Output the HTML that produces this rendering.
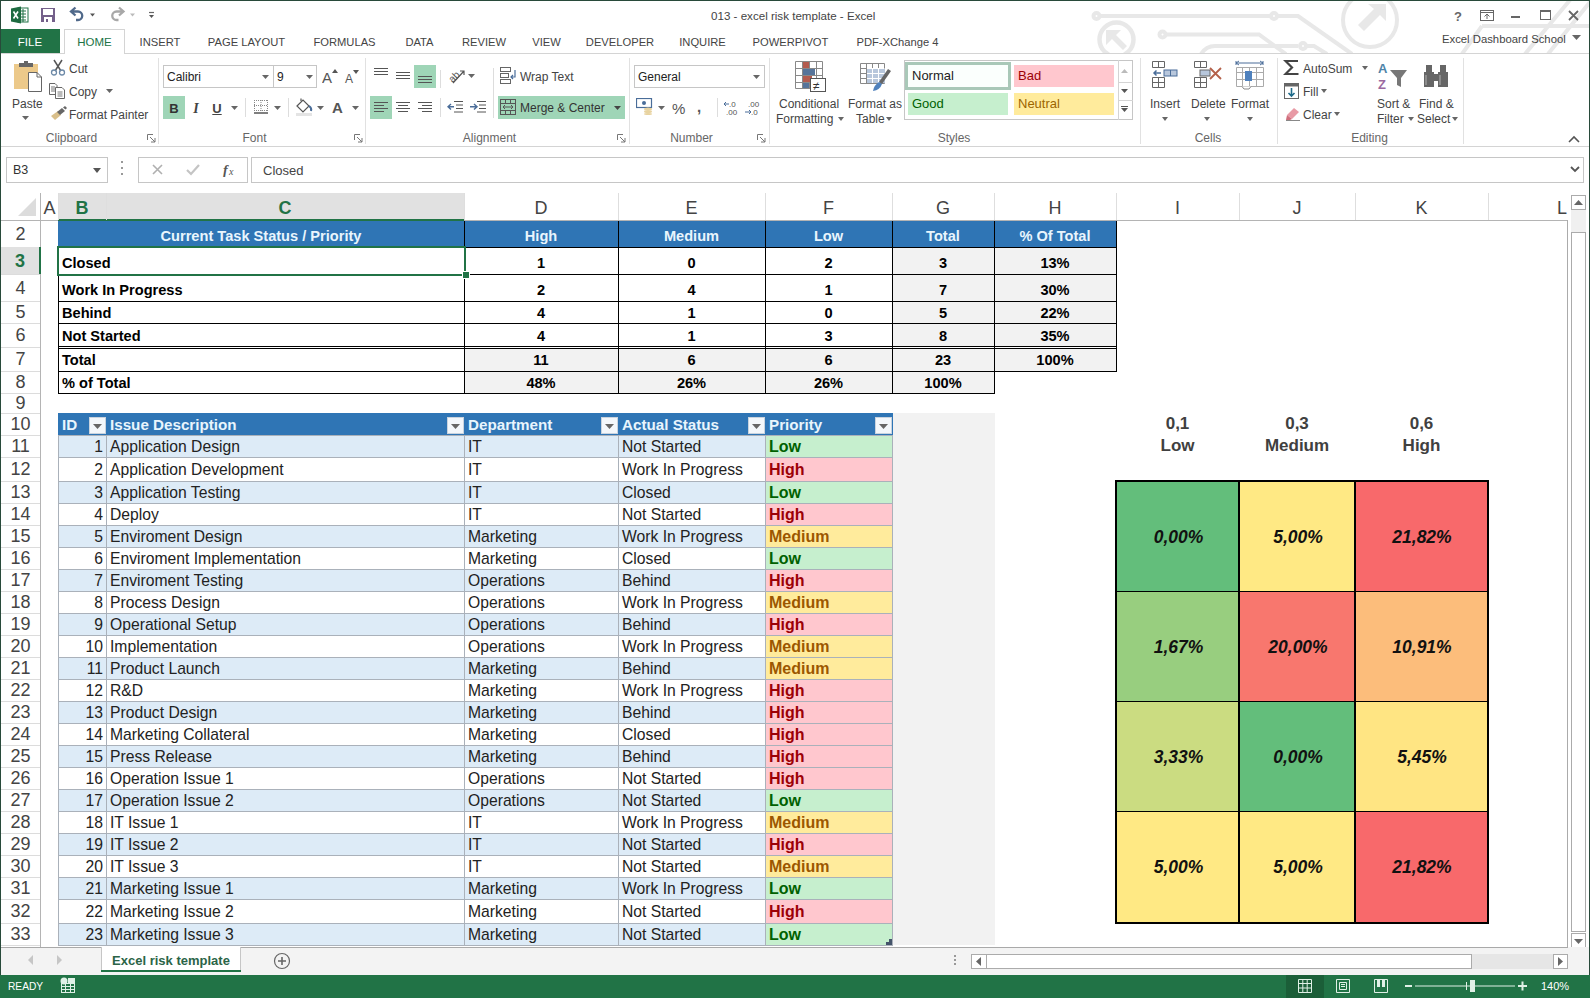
<!DOCTYPE html>
<html><head><meta charset="utf-8"><style>
html,body{margin:0;padding:0;}
body{width:1590px;height:998px;position:relative;overflow:hidden;background:#fff;font-family:"Liberation Sans",sans-serif;}
body>div,body>svg{position:absolute;}
.t{white-space:nowrap;}
</style></head><body>
<svg style="left:0;top:0" width="1590" height="54">
<g stroke="#e8e8e8" stroke-width="4" fill="none">
<circle cx="1096.5" cy="16" r="3"/><path d="M1100 16 H1270"/><circle cx="1274" cy="16" r="3"/><path d="M1277 16 H1298 L1352 54"/>
<circle cx="1116.5" cy="39.5" r="17" stroke-width="4.5"/>
<circle cx="1162.5" cy="34.5" r="3"/><path d="M1166 34.5 H1259 L1286 54"/>
<path d="M1201 54 Q1206 46 1215 46 H1298"/><circle cx="1303" cy="46" r="3"/><path d="M1306 46 H1314 L1327 54"/>
<circle cx="1370" cy="20" r="27"/>
<path d="M1482 26 H1590 M1482 26 L1462 54 M1570 0 L1525 54 M1590 2 L1548 54"/>
</g>
<g fill="#e8e8e8">
<path d="M1106 30 H1121 L1116 35 L1127 46 L1123 50 L1112 39 L1106 45 Z"/>
<path d="M1386 4 V21 L1380 15 L1364 31 L1358 25 L1374 9 L1368 4 Z"/>
</g>
</svg>
<svg style="left:10px;top:6px" width="20" height="18" viewBox="0 0 20 18">
<rect x="8" y="2" width="10" height="14" fill="#fff" stroke="#217346" stroke-width="1"/>
<path d="M10 5H16M10 8H16M10 11H16M10 14H16M13 3V16" stroke="#217346" stroke-width="1"/>
<path d="M1 2.5 L11 0.5 V17.5 L1 15.5 Z" fill="#1d6b40"/>
<path d="M3.5 5.5 L8 12.5 M8 5.5 L3.5 12.5" stroke="#fff" stroke-width="1.6"/>
</svg>
<svg style="left:41px;top:8px" width="14" height="14" viewBox="0 0 14 14">
<rect x="0" y="0" width="14" height="14" fill="#74608a"/>
<rect x="2" y="1" width="10" height="6" fill="#fff"/>
<rect x="3" y="9" width="8" height="5" fill="#fff"/><rect x="5" y="11" width="2" height="3" fill="#74608a"/>
</svg>
<svg style="left:68px;top:6px" width="90" height="18" viewBox="0 0 90 18">
<path d="M7.5 1.5 L3 5.5 L7.5 9.5 M4 5.5 H10 A4.2 4.2 0 0 1 10 14 H8" stroke="#50698a" stroke-width="2.3" fill="none"/>
<path d="M22 7.5 H27 L24.5 10.5 Z" fill="#555"/>
<path d="M51 1.5 L55.5 5.5 L51 9.5 M54.5 5.5 H48.5 A4.2 4.2 0 0 0 48.5 14 H50.5" stroke="#a8a8a8" stroke-width="2.3" fill="none"/>
<path d="M62 7.5 H67 L64.5 10.5 Z" fill="#bbb"/>
<path d="M81 6.5 H86" stroke="#666" stroke-width="1.2"/><path d="M81 9 H86 L83.5 12 Z" fill="#555"/>
</svg>
<div class="t" style="left:711px;top:7px;font-size:11.6px;color:#444;height:18px;line-height:18px;">013 - excel risk template - Excel</div>
<svg style="left:1450px;top:8px" width="135" height="16" viewBox="0 0 135 16">
<text x="4" y="13" font-family="Liberation Sans" font-weight="bold" font-size="13" fill="#666">?</text>
<rect x="30.5" y="2.5" width="13" height="10" fill="none" stroke="#666"/><path d="M30.5 4.5H43.5" stroke="#666"/>
<path d="M37 11V6 M34.5 8.5 L37 6 L39.5 8.5" stroke="#666" fill="none"/>
<rect x="61" y="8" width="9" height="2" fill="#666"/>
<rect x="90.5" y="2.5" width="10" height="9" fill="none" stroke="#666"/><rect x="90" y="2" width="11" height="2" fill="#666"/>
<path d="M119 3 L128 12 M128 3 L119 12" stroke="#666" stroke-width="1.8"/>
</svg>
<div style="left:0px;top:29px;width:60px;height:25px;background:#217346;"></div>
<div class="t" style="left:0px;top:30px;font-size:11.5px;color:#fff;width:60px;height:25px;line-height:25px;text-align:center;">FILE</div>
<div style="left:64px;top:29px;width:61px;height:25px;background:#fff;border:1px solid #d4d4d4;border-bottom:none;box-sizing:border-box;"></div>
<div class="t" style="left:64px;top:30px;font-size:11.5px;color:#217346;width:61px;height:24px;line-height:24px;text-align:center;">HOME</div>
<div class="t" style="left:121px;top:30px;font-size:11.2px;color:#444;width:78px;height:24px;line-height:24px;text-align:center;">INSERT</div>
<div class="t" style="left:188px;top:30px;font-size:11.2px;color:#444;width:117px;height:24px;line-height:24px;text-align:center;">PAGE LAYOUT</div>
<div class="t" style="left:294px;top:30px;font-size:11.2px;color:#444;width:101px;height:24px;line-height:24px;text-align:center;">FORMULAS</div>
<div class="t" style="left:384px;top:30px;font-size:11.2px;color:#444;width:71px;height:24px;line-height:24px;text-align:center;">DATA</div>
<div class="t" style="left:444px;top:30px;font-size:11.2px;color:#444;width:80px;height:24px;line-height:24px;text-align:center;">REVIEW</div>
<div class="t" style="left:513px;top:30px;font-size:11.2px;color:#444;width:67px;height:24px;line-height:24px;text-align:center;">VIEW</div>
<div class="t" style="left:569px;top:30px;font-size:11.2px;color:#444;width:102px;height:24px;line-height:24px;text-align:center;">DEVELOPER</div>
<div class="t" style="left:660px;top:30px;font-size:11.2px;color:#444;width:85px;height:24px;line-height:24px;text-align:center;">INQUIRE</div>
<div class="t" style="left:734px;top:30px;font-size:11.2px;color:#444;width:113px;height:24px;line-height:24px;text-align:center;">POWERPIVOT</div>
<div class="t" style="left:836px;top:30px;font-size:11.2px;color:#444;width:123px;height:24px;line-height:24px;text-align:center;">PDF-XChange 4</div>
<div style="left:1px;top:53px;width:63px;height:1px;background:#d4d4d4;"></div>
<div style="left:125px;top:53px;width:1464px;height:1px;background:#d4d4d4;"></div>
<div class="t" style="left:1442px;top:30px;font-size:11.3px;color:#444;height:18px;line-height:18px;">Excel Dashboard School</div>
<svg style="left:1572px;top:35px" width="9" height="5"><path d="M0 0H9L4.5 5Z" fill="#666"/></svg>
<div style="left:0px;top:146px;width:1590px;height:1px;background:#d4d4d4;"></div>
<div style="left:158px;top:58px;width:1px;height:86px;background:#e1e1e1;"></div>
<div style="left:365px;top:58px;width:1px;height:86px;background:#e1e1e1;"></div>
<div style="left:629px;top:58px;width:1px;height:86px;background:#e1e1e1;"></div>
<div style="left:769px;top:58px;width:1px;height:86px;background:#e1e1e1;"></div>
<div style="left:1140px;top:58px;width:1px;height:86px;background:#e1e1e1;"></div>
<div style="left:1277px;top:58px;width:1px;height:86px;background:#e1e1e1;"></div>
<div style="left:1463px;top:58px;width:1px;height:86px;background:#e1e1e1;"></div>
<div class="t" style="left:26px;top:130px;font-size:12px;color:#666;width:91px;height:16px;line-height:16px;text-align:center;">Clipboard</div>
<div class="t" style="left:223px;top:130px;font-size:12px;color:#666;width:63px;height:16px;line-height:16px;text-align:center;">Font</div>
<div class="t" style="left:443px;top:130px;font-size:12px;color:#666;width:93px;height:16px;line-height:16px;text-align:center;">Alignment</div>
<div class="t" style="left:651px;top:130px;font-size:12px;color:#666;width:81px;height:16px;line-height:16px;text-align:center;">Number</div>
<div class="t" style="left:920px;top:130px;font-size:12px;color:#666;width:68px;height:16px;line-height:16px;text-align:center;">Styles</div>
<div class="t" style="left:1176px;top:130px;font-size:12px;color:#666;width:64px;height:16px;line-height:16px;text-align:center;">Cells</div>
<div class="t" style="left:1331px;top:130px;font-size:12px;color:#666;width:77px;height:16px;line-height:16px;text-align:center;">Editing</div>
<svg style="left:147px;top:134px" width="9" height="9"><path d="M0.5 6V0.5H6" stroke="#777" fill="none"/><path d="M3 3L8 8M8 4V8H4" stroke="#777" fill="none"/></svg>
<svg style="left:354px;top:134px" width="9" height="9"><path d="M0.5 6V0.5H6" stroke="#777" fill="none"/><path d="M3 3L8 8M8 4V8H4" stroke="#777" fill="none"/></svg>
<svg style="left:617px;top:134px" width="9" height="9"><path d="M0.5 6V0.5H6" stroke="#777" fill="none"/><path d="M3 3L8 8M8 4V8H4" stroke="#777" fill="none"/></svg>
<svg style="left:757px;top:134px" width="9" height="9"><path d="M0.5 6V0.5H6" stroke="#777" fill="none"/><path d="M3 3L8 8M8 4V8H4" stroke="#777" fill="none"/></svg>
<svg style="left:1568px;top:135px" width="12" height="8"><path d="M1 7L6 2L11 7" stroke="#555" stroke-width="1.6" fill="none"/></svg>
<svg style="left:12px;top:60px" width="34" height="33" viewBox="0 0 34 33">
<rect x="2" y="4" width="24" height="25" fill="#ecc98a"/>
<rect x="7" y="3" width="14" height="4" fill="#666"/><rect x="12" y="1" width="4" height="3" fill="#666"/>
<path d="M16.5 12.5 H25 L29.5 17 V31.5 H16.5 Z" fill="#fff" stroke="#666"/>
<path d="M25 12.5V17H29.5" fill="none" stroke="#666"/>
</svg>
<div class="t" style="left:12px;top:97px;font-size:12px;color:#444;height:15px;line-height:15px;">Paste</div>
<svg style="left:22px;top:116px" width="7" height="4"><path d="M0 0H7L3.5 4Z" fill="#666"/></svg>
<svg style="left:50px;top:59px" width="17" height="17" viewBox="0 0 17 17">
<path d="M4 1 L11 12 M12 1 L5 12" stroke="#555" stroke-width="1.5"/>
<circle cx="4" cy="13.5" r="2.5" fill="none" stroke="#6d8aa8" stroke-width="1.3"/><circle cx="12" cy="13.5" r="2.5" fill="none" stroke="#6d8aa8" stroke-width="1.3"/>
</svg>
<div class="t" style="left:69px;top:61px;font-size:12px;color:#444;height:16px;line-height:16px;">Cut</div>
<svg style="left:49px;top:83px" width="17" height="16" viewBox="0 0 17 16">
<path d="M0.5 0.5H6L8 2.5V11.5H0.5Z" fill="#fff" stroke="#666"/>
<path d="M6.5 4.5H13L15.5 7V15.5H6.5Z" fill="#fff" stroke="#666"/>
<path d="M2 4H6M2 6H6M2 8H6M8.5 9H13.5M8.5 11H13.5M8.5 13H13.5" stroke="#777"/>
</svg>
<div class="t" style="left:69px;top:84px;font-size:12px;color:#444;height:16px;line-height:16px;">Copy</div>
<svg style="left:106px;top:89px" width="7" height="4"><path d="M0 0H7L3.5 4Z" fill="#666"/></svg>
<svg style="left:50px;top:106px" width="17" height="15" viewBox="0 0 17 15">
<path d="M1 10 L8 5 L11 9 L5 14 Z" fill="#d9bf8a"/>
<path d="M7 6 L12 2 L15 5 L10 9 Z" fill="#666"/><path d="M13 1.5 L15 0 L17 2 L15.5 3.5Z" fill="#666"/>
</svg>
<div class="t" style="left:69px;top:107px;font-size:12px;color:#444;height:16px;line-height:16px;">Format Painter</div>
<div style="left:163px;top:65px;width:111px;height:23px;border:1px solid #c6c6c6;box-sizing:border-box;background:#fff;"></div>
<div style="left:273px;top:65px;width:44px;height:23px;border:1px solid #c6c6c6;box-sizing:border-box;background:#fff;"></div>
<div class="t" style="left:167px;top:67px;font-size:12px;color:#222;height:21px;line-height:21px;">Calibri</div>
<div class="t" style="left:277px;top:67px;font-size:12px;color:#222;height:21px;line-height:21px;">9</div>
<svg style="left:262px;top:75px" width="7" height="4"><path d="M0 0H7L3.5 4Z" fill="#666"/></svg>
<svg style="left:306px;top:75px" width="7" height="4"><path d="M0 0H7L3.5 4Z" fill="#666"/></svg>
<svg style="left:322px;top:68px" width="40" height="18" viewBox="0 0 40 18">
<text x="0" y="15" font-family="Liberation Sans" font-size="15" fill="#555">A</text>
<path d="M10 5H16L13 1Z" fill="#555"/>
<text x="23" y="15" font-family="Liberation Sans" font-size="12" fill="#555">A</text>
<path d="M31 2H37L34 6Z" fill="#555"/>
</svg>
<div style="left:163px;top:96px;width:22px;height:23px;background:#9fd5b7;"></div>
<div class="t" style="left:163px;top:97px;font-size:13px;font-weight:bold;color:#333;width:22px;height:23px;line-height:23px;text-align:center;">B</div>
<div class="t" style="left:190px;top:97px;font-size:14px;font-family:'Liberation Serif',serif;font-weight:bold;color:#444;width:12px;height:23px;line-height:23px;text-align:center;"><i>I</i></div>
<div class="t" style="left:210px;top:97px;font-size:13px;font-weight:bold;color:#444;width:14px;height:23px;line-height:23px;text-align:center;"><u>U</u></div>
<svg style="left:231px;top:106px" width="7" height="4"><path d="M0 0H7L3.5 4Z" fill="#666"/></svg>
<svg style="left:274px;top:106px" width="7" height="4"><path d="M0 0H7L3.5 4Z" fill="#666"/></svg>
<svg style="left:317px;top:106px" width="7" height="4"><path d="M0 0H7L3.5 4Z" fill="#666"/></svg>
<svg style="left:352px;top:106px" width="7" height="4"><path d="M0 0H7L3.5 4Z" fill="#666"/></svg>
<div style="left:245px;top:98px;width:1px;height:19px;background:#ddd;"></div>
<div style="left:288px;top:98px;width:1px;height:19px;background:#ddd;"></div>
<svg style="left:253px;top:99px" width="16" height="15" viewBox="0 0 16 15">
<path d="M1.5 1V12 M8 1V12 M14.5 1V12 M1 1.5H15 M1 6.5H15 M1 11.5H15" stroke="#888" stroke-dasharray="1 1"/>
<path d="M1 14H15" stroke="#555" stroke-width="1.5"/>
</svg>
<svg style="left:295px;top:97px" width="19" height="19" viewBox="0 0 19 19">
<path d="M2 9 L8 3 L14 9 L8 15 Z" fill="#fff" stroke="#555" stroke-width="1.2"/>
<path d="M6 4 V1.5" stroke="#555" stroke-width="1.2"/>
<path d="M14 9 Q17 11 16 14" stroke="#4a6d99" stroke-width="2" fill="none"/>
<rect x="1" y="16" width="16" height="3" fill="#e4e4e4"/>
</svg>
<div class="t" style="left:332px;top:97px;font-size:15px;font-weight:bold;color:#555;height:22px;line-height:22px;">A</div>
<svg style="left:374px;top:67px" width="16" height="11"><rect x="0" y="1" width="14" height="1" fill="#555"/><rect x="0" y="4" width="14" height="1" fill="#555"/><rect x="0" y="7" width="14" height="1" fill="#555"/></svg>
<svg style="left:396px;top:71px" width="16" height="11"><rect x="0" y="1" width="14" height="1" fill="#555"/><rect x="0" y="4" width="14" height="1" fill="#555"/><rect x="0" y="7" width="14" height="1" fill="#555"/></svg>
<div style="left:414px;top:65px;width:22px;height:23px;background:#9fd5b7;"></div>
<svg style="left:418px;top:75px" width="16" height="11"><rect x="0" y="1" width="14" height="1" fill="#555"/><rect x="0" y="4" width="14" height="1" fill="#555"/><rect x="0" y="7" width="14" height="1" fill="#555"/></svg>
<div style="left:440px;top:70px;width:1px;height:18px;background:#ddd;"></div>
<svg style="left:447px;top:67px" width="20" height="18" viewBox="0 0 20 18">
<text x="1" y="13" font-family="Liberation Sans" font-size="10" fill="#555" transform="rotate(-45 7 9)">ab</text>
<path d="M6 16 L17 4 M13 4 H17 V8" stroke="#555" stroke-width="1.2" fill="none"/>
</svg>
<svg style="left:468px;top:74px" width="7" height="4"><path d="M0 0H7L3.5 4Z" fill="#666"/></svg>
<div style="left:493px;top:68px;width:1px;height:50px;background:#ddd;"></div>
<svg style="left:500px;top:67px" width="18" height="17" viewBox="0 0 18 17">
<rect x="0.5" y="0.5" width="10" height="4" fill="none" stroke="#666"/>
<rect x="0.5" y="6.5" width="8" height="4" fill="none" stroke="#666"/>
<rect x="0.5" y="12.5" width="10" height="4" fill="none" stroke="#666"/>
<path d="M15 3 V10 H11 M13 8 L11 10 L13 12" stroke="#4a6d99" stroke-width="1.2" fill="none"/>
</svg>
<div class="t" style="left:520px;top:69px;font-size:12px;color:#444;height:16px;line-height:16px;">Wrap Text</div>
<div style="left:370px;top:96px;width:22px;height:23px;background:#9fd5b7;"></div>
<svg style="left:374px;top:101px" width="16" height="14"><rect x="0" y="1" width="14" height="1" fill="#555"/><rect x="0" y="4" width="10" height="1" fill="#555"/><rect x="0" y="7" width="14" height="1" fill="#555"/><rect x="0" y="10" width="10" height="1" fill="#555"/></svg>
<svg style="left:396px;top:101px" width="16" height="14"><rect x="0" y="1" width="14" height="1" fill="#555"/><rect x="2" y="4" width="10" height="1" fill="#555"/><rect x="0" y="7" width="14" height="1" fill="#555"/><rect x="2" y="10" width="10" height="1" fill="#555"/></svg>
<svg style="left:418px;top:101px" width="16" height="14"><rect x="0" y="1" width="14" height="1" fill="#555"/><rect x="4" y="4" width="10" height="1" fill="#555"/><rect x="0" y="7" width="14" height="1" fill="#555"/><rect x="4" y="10" width="10" height="1" fill="#555"/></svg>
<div style="left:440px;top:98px;width:1px;height:19px;background:#ddd;"></div>
<svg style="left:447px;top:100px" width="40" height="14" viewBox="0 0 40 14">
<path d="M7 1.5H16 M9 5H16 M9 8.5H16 M7 12H16" stroke="#555"/>
<path d="M1 6.8H7 M4 4 L1 6.8 L4 9.6" stroke="#4a6d99" stroke-width="1.4" fill="none"/>
<path d="M30 1.5H39 M32 5H39 M32 8.5H39 M30 12H39" stroke="#555"/>
<path d="M23 6.8H30 M27 4 L30 6.8 L27 9.6" stroke="#4a6d99" stroke-width="1.4" fill="none"/>
</svg>
<div style="left:498px;top:96px;width:127px;height:23px;background:#9fd5b7;"></div>
<svg style="left:500px;top:99px" width="17" height="17" viewBox="0 0 17 17">
<rect x="0.5" y="0.5" width="15" height="15" fill="none" stroke="#555"/>
<path d="M0.5 4.5H15.5 M0.5 11.5H15.5 M5.5 0.5V4.5 M10.5 0.5V4.5 M5.5 11.5V15.5 M10.5 11.5V15.5" stroke="#555"/>
<path d="M3 8H13 M5 6L3 8L5 10 M11 6L13 8L11 10" stroke="#555" fill="none"/>
</svg>
<div class="t" style="left:520px;top:100px;font-size:12px;color:#333;height:16px;line-height:16px;">Merge &amp; Center</div>
<svg style="left:614px;top:106px" width="7" height="4"><path d="M0 0H7L3.5 4Z" fill="#444"/></svg>
<div style="left:634px;top:65px;width:131px;height:23px;border:1px solid #c6c6c6;box-sizing:border-box;background:#fff;"></div>
<div class="t" style="left:638px;top:67px;font-size:12px;color:#222;height:21px;line-height:21px;">General</div>
<svg style="left:753px;top:75px" width="7" height="4"><path d="M0 0H7L3.5 4Z" fill="#666"/></svg>
<svg style="left:636px;top:98px" width="18" height="17" viewBox="0 0 18 17">
<rect x="0.5" y="0.5" width="15" height="9" fill="none" stroke="#4a6d99" stroke-width="1.2"/>
<circle cx="8" cy="5" r="2" fill="#4a6d99"/>
<ellipse cx="12" cy="11" rx="4" ry="1.5" fill="#e8d3a0"/><ellipse cx="12" cy="13.5" rx="4" ry="1.5" fill="#e8d3a0"/><ellipse cx="12" cy="16" rx="4" ry="1" fill="#e8d3a0"/>
</svg>
<svg style="left:658px;top:106px" width="7" height="4"><path d="M0 0H7L3.5 4Z" fill="#666"/></svg>
<div class="t" style="left:672px;top:98px;font-size:15px;color:#555;height:22px;line-height:22px;">%</div>
<div class="t" style="left:697px;top:96px;font-size:15px;font-weight:bold;color:#555;height:22px;line-height:22px;">,</div>
<div style="left:717px;top:98px;width:1px;height:19px;background:#ddd;"></div>
<svg style="left:723px;top:100px" width="40" height="16" viewBox="0 0 40 16">
<text x="6" y="7" font-family="Liberation Sans" font-size="8" fill="#555">.0</text>
<text x="3" y="15" font-family="Liberation Sans" font-size="8" fill="#555">.00</text>
<path d="M1 4H6 M3 2L1 4L3 6" stroke="#4a6d99" fill="none"/>
<text x="25" y="7" font-family="Liberation Sans" font-size="8" fill="#555">.00</text>
<text x="28" y="15" font-family="Liberation Sans" font-size="8" fill="#555">.0</text>
<path d="M22 12H28 M26 10L28 12L26 14" stroke="#4a6d99" fill="none"/>
</svg>
<svg style="left:795px;top:61px" width="32" height="32" viewBox="0 0 32 32">
<path d="M0.5 0.5H27.5V27.5H0.5Z M0.5 7.5H27.5 M0.5 14.5H27.5 M0.5 21.5H27.5 M7.5 0.5V27.5 M14.5 0.5V27.5 M21.5 0.5V27.5" stroke="#888" fill="#fff"/>
<rect x="8" y="1" width="6" height="6" fill="#b35b4e"/><rect x="8" y="8" width="12" height="6" fill="#56749a"/>
<rect x="8" y="15" width="9" height="6" fill="#b35b4e"/><rect x="8" y="22" width="6" height="5" fill="#56749a"/>
<rect x="15.5" y="17.5" width="15" height="13" fill="#fff" stroke="#555"/>
<text x="18" y="29" font-family="Liberation Sans" font-size="12" fill="#333">≠</text>
</svg>
<div class="t" style="left:779px;top:97px;font-size:12px;color:#444;height:15px;line-height:15px;">Conditional</div>
<div class="t" style="left:776px;top:112px;font-size:12px;color:#444;height:15px;line-height:15px;">Formatting</div>
<svg style="left:838px;top:117px" width="6" height="4"><path d="M0 0H6L3 4Z" fill="#666"/></svg>
<svg style="left:860px;top:63px" width="32" height="30" viewBox="0 0 32 30">
<path d="M0.5 0.5H24.5V20.5H0.5Z M0.5 5.5H24.5 M0.5 10.5H24.5 M0.5 15.5H24.5 M6.5 0.5V20.5 M12.5 0.5V20.5 M18.5 0.5V20.5" stroke="#888" fill="#fff"/>
<rect x="7" y="6" width="18" height="14" fill="#b8c7dc"/>
<path d="M7 5.5H24.5 M7 10.5H24.5 M7 15.5H24.5 M12.5 6V20 M18.5 6V20" stroke="#fff"/>
<path d="M28 6 L31 8 L22 21 L19 19 Z" fill="#666"/>
<path d="M19 19 L22 21 Q20 27 13 28 Q14 22 19 19Z" fill="#4f81bd"/>
</svg>
<div class="t" style="left:848px;top:97px;font-size:12px;color:#444;height:15px;line-height:15px;">Format as</div>
<div class="t" style="left:856px;top:112px;font-size:12px;color:#444;height:15px;line-height:15px;">Table</div>
<svg style="left:886px;top:117px" width="6" height="4"><path d="M0 0H6L3 4Z" fill="#666"/></svg>
<div style="left:904px;top:60px;width:229px;height:60px;border:1px solid #c6c6c6;box-sizing:border-box;background:#fff;"></div>
<div style="left:905px;top:62px;width:106px;height:28px;background:#a9c8b8;"></div>
<div style="left:908px;top:65px;width:100px;height:22px;background:#fbfffd;"></div>
<div class="t" style="left:912px;top:65px;font-size:13px;color:#222;height:22px;line-height:22px;">Normal</div>
<div style="left:1014px;top:65px;width:100px;height:22px;background:#ffc7ce;"></div>
<div class="t" style="left:1018px;top:65px;font-size:13px;color:#9c0006;height:22px;line-height:22px;">Bad</div>
<div style="left:908px;top:93px;width:100px;height:22px;background:#c6efce;"></div>
<div class="t" style="left:912px;top:93px;font-size:13px;color:#006100;height:22px;line-height:22px;">Good</div>
<div style="left:1014px;top:93px;width:100px;height:22px;background:#ffeb9c;"></div>
<div class="t" style="left:1018px;top:93px;font-size:13px;color:#9c6500;height:22px;line-height:22px;">Neutral</div>
<div style="left:1118px;top:60px;width:1px;height:60px;background:#d4d4d4;"></div>
<div style="left:1118px;top:82px;width:15px;height:1px;background:#d4d4d4;"></div>
<div style="left:1118px;top:100px;width:15px;height:1px;background:#d4d4d4;"></div>
<svg style="left:1121px;top:69px" width="8" height="5"><path d="M0 4H7L3.5 0Z" fill="#bbb"/></svg>
<svg style="left:1121px;top:89px" width="8" height="5"><path d="M0 0H7L3.5 4Z" fill="#555"/></svg>
<svg style="left:1121px;top:106px" width="8" height="7"><path d="M0 0.5H7" stroke="#555"/><path d="M0 2H7L3.5 6Z" fill="#555"/></svg>
<svg style="left:1151px;top:60px" width="30" height="30" viewBox="0 0 30 30"><path d="M1.5 1.5H13.5V7.5H1.5Z M7.5 1.5V7.5 M1.5 17.5H13.5V27.5H1.5Z M1.5 22.5H13.5 M7.5 17.5V27.5" stroke="#666" fill="#fff"/><rect x="13" y="10" width="13" height="6" fill="#b8c7dc" stroke="#4a6d99"/><path d="M19.5 10V16" stroke="#4a6d99"/><path d="M3 13H10 M5.5 10.5L3 13L5.5 15.5" stroke="#4a6d99" stroke-width="1.5" fill="none"/></svg>
<svg style="left:1193px;top:60px" width="30" height="30" viewBox="0 0 30 30"><path d="M1.5 1.5H13.5V7.5H1.5Z M7.5 1.5V7.5 M1.5 17.5H13.5V27.5H1.5Z M1.5 22.5H13.5 M7.5 17.5V27.5" stroke="#666" fill="#fff"/><rect x="7" y="10" width="10" height="6" fill="#b8c7dc" stroke="#666"/><path d="M17 8 L28 19 M28 8 L17 19" stroke="#b4614a" stroke-width="1.8"/></svg>
<svg style="left:1235px;top:60px" width="30" height="30" viewBox="0 0 30 30"><path d="M1 3H28 M1 1V5 M28 1V5 M4 1L1 3L4 5 M25 1L28 3L25 5" stroke="#4a6d99" fill="none"/><path d="M1.5 7.5H28.5V26.5H1.5Z M1.5 12.5H28.5 M1.5 19.5H28.5 M7.5 7.5V26.5 M14.5 7.5V26.5 M21.5 7.5V26.5" stroke="#aaa" fill="#fff"/><rect x="10" y="11" width="7" height="10" fill="#4f81bd"/><path d="M7 26.5 L9 29 H14 L16 26.5" stroke="#888" fill="#fff"/></svg>
<div class="t" style="left:1150px;top:97px;font-size:12px;color:#444;height:15px;line-height:15px;">Insert</div>
<div class="t" style="left:1191px;top:97px;font-size:12px;color:#444;height:15px;line-height:15px;">Delete</div>
<div class="t" style="left:1231px;top:97px;font-size:12px;color:#444;height:15px;line-height:15px;">Format</div>
<svg style="left:1162px;top:117px" width="6" height="4"><path d="M0 0H6L3 4Z" fill="#666"/></svg>
<svg style="left:1204px;top:117px" width="6" height="4"><path d="M0 0H6L3 4Z" fill="#666"/></svg>
<svg style="left:1247px;top:117px" width="6" height="4"><path d="M0 0H6L3 4Z" fill="#666"/></svg>
<svg style="left:1283px;top:59px" width="17" height="17" viewBox="0 0 17 17"><path d="M15 2H2.5L9 8.5L2.5 15H15.5" stroke="#444" stroke-width="2.2" fill="none"/></svg>
<div class="t" style="left:1303px;top:61px;font-size:12px;color:#444;height:16px;line-height:16px;">AutoSum</div>
<svg style="left:1362px;top:66px" width="6" height="4"><path d="M0 0H6L3 4Z" fill="#666"/></svg>
<svg style="left:1284px;top:83px" width="16" height="17" viewBox="0 0 16 17">
<rect x="0.5" y="0.5" width="14" height="15" fill="#fff" stroke="#666"/><rect x="0.5" y="0.5" width="14" height="3" fill="#666"/>
<path d="M7.5 5V13 M4.5 10L7.5 13L10.5 10" stroke="#1f6b8a" stroke-width="1.6" fill="none"/>
</svg>
<div class="t" style="left:1303px;top:84px;font-size:12px;color:#444;height:16px;line-height:16px;">Fill</div>
<svg style="left:1321px;top:89px" width="6" height="4"><path d="M0 0H6L3 4Z" fill="#666"/></svg>
<svg style="left:1285px;top:106px" width="16" height="15" viewBox="0 0 16 15">
<path d="M2 9 L9 2 L14 6 L7 13 Z" fill="#e89aa5"/><path d="M2 9 L7 13 L5 14 H1Z" fill="#d06f7d"/><path d="M1 14.5H15" stroke="#888"/>
</svg>
<div class="t" style="left:1303px;top:107px;font-size:12px;color:#444;height:16px;line-height:16px;">Clear</div>
<svg style="left:1334px;top:112px" width="6" height="4"><path d="M0 0H6L3 4Z" fill="#666"/></svg>
<svg style="left:1377px;top:61px" width="32" height="30" viewBox="0 0 32 30">
<text x="1" y="12" font-family="Liberation Sans" font-weight="bold" font-size="13" fill="#4f84a8">A</text>
<text x="1" y="28" font-family="Liberation Sans" font-weight="bold" font-size="13" fill="#9b6aa0">Z</text>
<path d="M13 9 H30 L24 17 V26 L20 24 V17 Z" fill="#777"/>
</svg>
<div class="t" style="left:1377px;top:97px;font-size:12px;color:#444;height:15px;line-height:15px;">Sort &amp;</div>
<div class="t" style="left:1377px;top:112px;font-size:12px;color:#444;height:15px;line-height:15px;">Filter</div>
<svg style="left:1408px;top:117px" width="6" height="4"><path d="M0 0H6L3 4Z" fill="#666"/></svg>
<svg style="left:1423px;top:63px" width="28" height="26" viewBox="0 0 28 26">
<path d="M3 2H9V9H11V24H1V9H3Z M17 2H23V9H25V24H15V9H17Z" fill="#666"/><rect x="10" y="11" width="6" height="7" fill="#666"/>
<path d="M3 12V22 M17 12V22" stroke="#999" stroke-width="1.5"/>
</svg>
<div class="t" style="left:1419px;top:97px;font-size:12px;color:#444;height:15px;line-height:15px;">Find &amp;</div>
<div class="t" style="left:1417px;top:112px;font-size:12px;color:#444;height:15px;line-height:15px;">Select</div>
<svg style="left:1452px;top:117px" width="6" height="4"><path d="M0 0H6L3 4Z" fill="#666"/></svg>
<div style="left:6px;top:157px;width:102px;height:26px;border:1px solid #c6c6c6;box-sizing:border-box;background:#fff;"></div>
<div class="t" style="left:13px;top:158px;font-size:12.5px;color:#333;height:24px;line-height:24px;">B3</div>
<svg style="left:93px;top:168px" width="8" height="5"><path d="M0 0H8L4 5Z" fill="#555"/></svg>
<svg style="left:121px;top:160px" width="3" height="16"><rect x="0" y="1" width="2" height="2" fill="#999"/><rect x="0" y="7" width="2" height="2" fill="#999"/><rect x="0" y="13" width="2" height="2" fill="#999"/></svg>
<div style="left:138px;top:157px;width:110px;height:26px;border:1px solid #c6c6c6;box-sizing:border-box;background:#fff;"></div>
<svg style="left:150px;top:163px" width="90" height="14" viewBox="0 0 90 14">
<path d="M3 2L12 11M12 2L3 11" stroke="#b0b0b0" stroke-width="1.6"/>
<path d="M37 7L41 11L49 2" stroke="#c4c4c4" stroke-width="2.2" fill="none"/>
<text x="73" y="12" font-family="Liberation Serif" font-style="italic" font-weight="bold" font-size="14" fill="#555">f</text>
<text x="79" y="12" font-family="Liberation Serif" font-style="italic" font-size="10" fill="#555">x</text>
</svg>
<div style="left:251px;top:157px;width:1333px;height:26px;border:1px solid #c6c6c6;box-sizing:border-box;background:#fff;"></div>
<div class="t" style="left:263px;top:159px;font-size:13px;color:#444;height:24px;line-height:24px;">Closed</div>
<svg style="left:1570px;top:166px" width="10" height="7"><path d="M1 1L5 5L9 1" stroke="#555" stroke-width="1.8" fill="none"/></svg>
<div style="left:1px;top:193px;width:1566px;height:754px;background:#fff;"></div>
<div style="left:58px;top:193px;width:406px;height:26px;background:#e1e1e1;"></div>
<div style="left:41px;top:220px;width:1526px;height:1px;background:#b4b4b4;"></div>
<div style="left:58px;top:219px;width:406px;height:2px;background:#217346;"></div>
<div style="left:58px;top:193px;width:1px;height:27px;background:#dedede;"></div>
<div style="left:106px;top:193px;width:1px;height:27px;background:#dedede;"></div>
<div style="left:464px;top:193px;width:1px;height:27px;background:#dedede;"></div>
<div style="left:618px;top:193px;width:1px;height:27px;background:#dedede;"></div>
<div style="left:765px;top:193px;width:1px;height:27px;background:#dedede;"></div>
<div style="left:892px;top:193px;width:1px;height:27px;background:#dedede;"></div>
<div style="left:994px;top:193px;width:1px;height:27px;background:#dedede;"></div>
<div style="left:1116px;top:193px;width:1px;height:27px;background:#dedede;"></div>
<div style="left:1239px;top:193px;width:1px;height:27px;background:#dedede;"></div>
<div style="left:1355px;top:193px;width:1px;height:27px;background:#dedede;"></div>
<div style="left:1488px;top:193px;width:1px;height:27px;background:#dedede;"></div>
<div class="t" style="left:41px;top:197.76px;font-size:18px;color:#444;width:17px;height:20px;line-height:20px;text-align:center;">A</div>
<div class="t" style="left:58px;top:197.76px;font-size:18px;color:#217346;font-weight:bold;width:48px;height:20px;line-height:20px;text-align:center;">B</div>
<div class="t" style="left:106px;top:197.76px;font-size:18px;color:#217346;font-weight:bold;width:358px;height:20px;line-height:20px;text-align:center;">C</div>
<div class="t" style="left:464px;top:197.76px;font-size:18px;color:#444;width:154px;height:20px;line-height:20px;text-align:center;">D</div>
<div class="t" style="left:618px;top:197.76px;font-size:18px;color:#444;width:147px;height:20px;line-height:20px;text-align:center;">E</div>
<div class="t" style="left:765px;top:197.76px;font-size:18px;color:#444;width:127px;height:20px;line-height:20px;text-align:center;">F</div>
<div class="t" style="left:892px;top:197.76px;font-size:18px;color:#444;width:102px;height:20px;line-height:20px;text-align:center;">G</div>
<div class="t" style="left:994px;top:197.76px;font-size:18px;color:#444;width:122px;height:20px;line-height:20px;text-align:center;">H</div>
<div class="t" style="left:1116px;top:197.76px;font-size:18px;color:#444;width:123px;height:20px;line-height:20px;text-align:center;">I</div>
<div class="t" style="left:1239px;top:197.76px;font-size:18px;color:#444;width:116px;height:20px;line-height:20px;text-align:center;">J</div>
<div class="t" style="left:1355px;top:197.76px;font-size:18px;color:#444;width:133px;height:20px;line-height:20px;text-align:center;">K</div>
<div class="t" style="left:1557px;top:197.76px;font-size:18px;color:#444;height:20px;line-height:20px;">L</div>
<svg style="left:17px;top:197px" width="20" height="20"><path d="M19 1V19H1Z" fill="#dcdcdc"/></svg>
<div style="left:40px;top:193px;width:1px;height:754px;background:#b4b4b4;"></div>
<div class="t" style="left:1px;top:224.26px;font-size:18px;color:#444;width:39px;height:20px;line-height:20px;text-align:center;">2</div>
<div style="left:1px;top:247px;width:39px;height:1px;background:#dcdcdc;"></div>
<div style="left:1px;top:247px;width:38px;height:27px;background:#e1e1e1;"></div>
<div style="left:39px;top:247px;width:2px;height:27px;background:#217346;"></div>
<div class="t" style="left:1px;top:250.76px;font-size:18px;color:#217346;font-weight:bold;width:38px;height:20px;line-height:20px;text-align:center;">3</div>
<div style="left:1px;top:274px;width:39px;height:1px;background:#dcdcdc;"></div>
<div class="t" style="left:1px;top:277.76px;font-size:18px;color:#444;width:39px;height:20px;line-height:20px;text-align:center;">4</div>
<div style="left:1px;top:301px;width:39px;height:1px;background:#dcdcdc;"></div>
<div class="t" style="left:1px;top:302.26px;font-size:18px;color:#444;width:39px;height:20px;line-height:20px;text-align:center;">5</div>
<div style="left:1px;top:323px;width:39px;height:1px;background:#dcdcdc;"></div>
<div class="t" style="left:1px;top:325.26px;font-size:18px;color:#444;width:39px;height:20px;line-height:20px;text-align:center;">6</div>
<div style="left:1px;top:347px;width:39px;height:1px;background:#dcdcdc;"></div>
<div class="t" style="left:1px;top:349.26px;font-size:18px;color:#444;width:39px;height:20px;line-height:20px;text-align:center;">7</div>
<div style="left:1px;top:371px;width:39px;height:1px;background:#dcdcdc;"></div>
<div class="t" style="left:1px;top:372.26px;font-size:18px;color:#444;width:39px;height:20px;line-height:20px;text-align:center;">8</div>
<div style="left:1px;top:393px;width:39px;height:1px;background:#dcdcdc;"></div>
<div class="t" style="left:1px;top:393.26px;font-size:18px;color:#444;width:39px;height:20px;line-height:20px;text-align:center;">9</div>
<div style="left:1px;top:413px;width:39px;height:1px;background:#dcdcdc;"></div>
<div class="t" style="left:1px;top:414.26px;font-size:18px;color:#444;width:39px;height:20px;line-height:20px;text-align:center;">10</div>
<div style="left:1px;top:435px;width:39px;height:1px;background:#dcdcdc;"></div>
<div class="t" style="left:1px;top:436.26px;font-size:18px;color:#444;width:39px;height:20px;line-height:20px;text-align:center;">11</div>
<div style="left:1px;top:457px;width:39px;height:1px;background:#dcdcdc;"></div>
<div class="t" style="left:1px;top:459.26px;font-size:18px;color:#444;width:39px;height:20px;line-height:20px;text-align:center;">12</div>
<div style="left:1px;top:481px;width:39px;height:1px;background:#dcdcdc;"></div>
<div class="t" style="left:1px;top:482.26px;font-size:18px;color:#444;width:39px;height:20px;line-height:20px;text-align:center;">13</div>
<div style="left:1px;top:503px;width:39px;height:1px;background:#dcdcdc;"></div>
<div class="t" style="left:1px;top:504.26px;font-size:18px;color:#444;width:39px;height:20px;line-height:20px;text-align:center;">14</div>
<div style="left:1px;top:525px;width:39px;height:1px;background:#dcdcdc;"></div>
<div class="t" style="left:1px;top:526.26px;font-size:18px;color:#444;width:39px;height:20px;line-height:20px;text-align:center;">15</div>
<div style="left:1px;top:547px;width:39px;height:1px;background:#dcdcdc;"></div>
<div class="t" style="left:1px;top:548.26px;font-size:18px;color:#444;width:39px;height:20px;line-height:20px;text-align:center;">16</div>
<div style="left:1px;top:569px;width:39px;height:1px;background:#dcdcdc;"></div>
<div class="t" style="left:1px;top:570.26px;font-size:18px;color:#444;width:39px;height:20px;line-height:20px;text-align:center;">17</div>
<div style="left:1px;top:591px;width:39px;height:1px;background:#dcdcdc;"></div>
<div class="t" style="left:1px;top:592.26px;font-size:18px;color:#444;width:39px;height:20px;line-height:20px;text-align:center;">18</div>
<div style="left:1px;top:613px;width:39px;height:1px;background:#dcdcdc;"></div>
<div class="t" style="left:1px;top:614.26px;font-size:18px;color:#444;width:39px;height:20px;line-height:20px;text-align:center;">19</div>
<div style="left:1px;top:635px;width:39px;height:1px;background:#dcdcdc;"></div>
<div class="t" style="left:1px;top:636.26px;font-size:18px;color:#444;width:39px;height:20px;line-height:20px;text-align:center;">20</div>
<div style="left:1px;top:657px;width:39px;height:1px;background:#dcdcdc;"></div>
<div class="t" style="left:1px;top:658.26px;font-size:18px;color:#444;width:39px;height:20px;line-height:20px;text-align:center;">21</div>
<div style="left:1px;top:679px;width:39px;height:1px;background:#dcdcdc;"></div>
<div class="t" style="left:1px;top:680.26px;font-size:18px;color:#444;width:39px;height:20px;line-height:20px;text-align:center;">22</div>
<div style="left:1px;top:701px;width:39px;height:1px;background:#dcdcdc;"></div>
<div class="t" style="left:1px;top:702.26px;font-size:18px;color:#444;width:39px;height:20px;line-height:20px;text-align:center;">23</div>
<div style="left:1px;top:723px;width:39px;height:1px;background:#dcdcdc;"></div>
<div class="t" style="left:1px;top:724.26px;font-size:18px;color:#444;width:39px;height:20px;line-height:20px;text-align:center;">24</div>
<div style="left:1px;top:745px;width:39px;height:1px;background:#dcdcdc;"></div>
<div class="t" style="left:1px;top:746.26px;font-size:18px;color:#444;width:39px;height:20px;line-height:20px;text-align:center;">25</div>
<div style="left:1px;top:767px;width:39px;height:1px;background:#dcdcdc;"></div>
<div class="t" style="left:1px;top:768.26px;font-size:18px;color:#444;width:39px;height:20px;line-height:20px;text-align:center;">26</div>
<div style="left:1px;top:789px;width:39px;height:1px;background:#dcdcdc;"></div>
<div class="t" style="left:1px;top:790.26px;font-size:18px;color:#444;width:39px;height:20px;line-height:20px;text-align:center;">27</div>
<div style="left:1px;top:811px;width:39px;height:1px;background:#dcdcdc;"></div>
<div class="t" style="left:1px;top:812.26px;font-size:18px;color:#444;width:39px;height:20px;line-height:20px;text-align:center;">28</div>
<div style="left:1px;top:833px;width:39px;height:1px;background:#dcdcdc;"></div>
<div class="t" style="left:1px;top:834.26px;font-size:18px;color:#444;width:39px;height:20px;line-height:20px;text-align:center;">29</div>
<div style="left:1px;top:855px;width:39px;height:1px;background:#dcdcdc;"></div>
<div class="t" style="left:1px;top:856.26px;font-size:18px;color:#444;width:39px;height:20px;line-height:20px;text-align:center;">30</div>
<div style="left:1px;top:877px;width:39px;height:1px;background:#dcdcdc;"></div>
<div class="t" style="left:1px;top:878.26px;font-size:18px;color:#444;width:39px;height:20px;line-height:20px;text-align:center;">31</div>
<div style="left:1px;top:899px;width:39px;height:1px;background:#dcdcdc;"></div>
<div class="t" style="left:1px;top:901.26px;font-size:18px;color:#444;width:39px;height:20px;line-height:20px;text-align:center;">32</div>
<div style="left:1px;top:923px;width:39px;height:1px;background:#dcdcdc;"></div>
<div class="t" style="left:1px;top:924.26px;font-size:18px;color:#444;width:39px;height:20px;line-height:20px;text-align:center;">33</div>
<div style="left:1px;top:945px;width:39px;height:1px;background:#dcdcdc;"></div>
<div style="left:1px;top:220px;width:39px;height:1px;background:#b4b4b4;"></div>
<div style="left:58px;top:221px;width:1058px;height:26px;background:#2f75b5;"></div>
<div class="t" style="left:58px;top:225.94px;font-size:14.6px;font-weight:bold;color:#e9f5fd;width:406px;height:20px;line-height:20px;text-align:center;">Current Task Status / Priority</div>
<div class="t" style="left:464px;top:225.94px;font-size:14.6px;font-weight:bold;color:#e9f5fd;width:154px;height:20px;line-height:20px;text-align:center;">High</div>
<div class="t" style="left:618px;top:225.94px;font-size:14.6px;font-weight:bold;color:#e9f5fd;width:147px;height:20px;line-height:20px;text-align:center;">Medium</div>
<div class="t" style="left:765px;top:225.94px;font-size:14.6px;font-weight:bold;color:#e9f5fd;width:127px;height:20px;line-height:20px;text-align:center;">Low</div>
<div class="t" style="left:892px;top:225.94px;font-size:14.6px;font-weight:bold;color:#e9f5fd;width:102px;height:20px;line-height:20px;text-align:center;">Total</div>
<div class="t" style="left:994px;top:225.94px;font-size:14.6px;font-weight:bold;color:#e9f5fd;width:122px;height:20px;line-height:20px;text-align:center;">% Of Total</div>
<div style="left:892px;top:247px;width:224px;height:27px;background:#f2f2f2;"></div>
<div style="left:892px;top:274px;width:224px;height:27px;background:#f2f2f2;"></div>
<div style="left:892px;top:301px;width:224px;height:22px;background:#f2f2f2;"></div>
<div style="left:892px;top:323px;width:224px;height:24px;background:#f2f2f2;"></div>
<div style="left:464px;top:348px;width:652px;height:23px;background:#f2f2f2;"></div>
<div style="left:464px;top:371px;width:530px;height:22px;background:#f2f2f2;"></div>
<div class="t" style="left:62px;top:252.94px;font-size:14.6px;font-weight:bold;color:#000;height:20px;line-height:20px;">Closed</div>
<div class="t" style="left:464px;top:252.94px;font-size:14.6px;font-weight:bold;color:#000;width:154px;height:20px;line-height:20px;text-align:center;">1</div>
<div class="t" style="left:618px;top:252.94px;font-size:14.6px;font-weight:bold;color:#000;width:147px;height:20px;line-height:20px;text-align:center;">0</div>
<div class="t" style="left:765px;top:252.94px;font-size:14.6px;font-weight:bold;color:#000;width:127px;height:20px;line-height:20px;text-align:center;">2</div>
<div class="t" style="left:892px;top:252.94px;font-size:14.6px;font-weight:bold;color:#000;width:102px;height:20px;line-height:20px;text-align:center;">3</div>
<div class="t" style="left:994px;top:252.94px;font-size:14.6px;font-weight:bold;color:#000;width:122px;height:20px;line-height:20px;text-align:center;">13%</div>
<div class="t" style="left:62px;top:279.94px;font-size:14.6px;font-weight:bold;color:#000;height:20px;line-height:20px;">Work In Progress</div>
<div class="t" style="left:464px;top:279.94px;font-size:14.6px;font-weight:bold;color:#000;width:154px;height:20px;line-height:20px;text-align:center;">2</div>
<div class="t" style="left:618px;top:279.94px;font-size:14.6px;font-weight:bold;color:#000;width:147px;height:20px;line-height:20px;text-align:center;">4</div>
<div class="t" style="left:765px;top:279.94px;font-size:14.6px;font-weight:bold;color:#000;width:127px;height:20px;line-height:20px;text-align:center;">1</div>
<div class="t" style="left:892px;top:279.94px;font-size:14.6px;font-weight:bold;color:#000;width:102px;height:20px;line-height:20px;text-align:center;">7</div>
<div class="t" style="left:994px;top:279.94px;font-size:14.6px;font-weight:bold;color:#000;width:122px;height:20px;line-height:20px;text-align:center;">30%</div>
<div class="t" style="left:62px;top:302.94px;font-size:14.6px;font-weight:bold;color:#000;height:20px;line-height:20px;">Behind</div>
<div class="t" style="left:464px;top:302.94px;font-size:14.6px;font-weight:bold;color:#000;width:154px;height:20px;line-height:20px;text-align:center;">4</div>
<div class="t" style="left:618px;top:302.94px;font-size:14.6px;font-weight:bold;color:#000;width:147px;height:20px;line-height:20px;text-align:center;">1</div>
<div class="t" style="left:765px;top:302.94px;font-size:14.6px;font-weight:bold;color:#000;width:127px;height:20px;line-height:20px;text-align:center;">0</div>
<div class="t" style="left:892px;top:302.94px;font-size:14.6px;font-weight:bold;color:#000;width:102px;height:20px;line-height:20px;text-align:center;">5</div>
<div class="t" style="left:994px;top:302.94px;font-size:14.6px;font-weight:bold;color:#000;width:122px;height:20px;line-height:20px;text-align:center;">22%</div>
<div class="t" style="left:62px;top:325.94px;font-size:14.6px;font-weight:bold;color:#000;height:20px;line-height:20px;">Not Started</div>
<div class="t" style="left:464px;top:325.94px;font-size:14.6px;font-weight:bold;color:#000;width:154px;height:20px;line-height:20px;text-align:center;">4</div>
<div class="t" style="left:618px;top:325.94px;font-size:14.6px;font-weight:bold;color:#000;width:147px;height:20px;line-height:20px;text-align:center;">1</div>
<div class="t" style="left:765px;top:325.94px;font-size:14.6px;font-weight:bold;color:#000;width:127px;height:20px;line-height:20px;text-align:center;">3</div>
<div class="t" style="left:892px;top:325.94px;font-size:14.6px;font-weight:bold;color:#000;width:102px;height:20px;line-height:20px;text-align:center;">8</div>
<div class="t" style="left:994px;top:325.94px;font-size:14.6px;font-weight:bold;color:#000;width:122px;height:20px;line-height:20px;text-align:center;">35%</div>
<div class="t" style="left:62px;top:349.94px;font-size:14.6px;font-weight:bold;color:#000;height:20px;line-height:20px;">Total</div>
<div class="t" style="left:464px;top:349.94px;font-size:14.6px;font-weight:bold;color:#000;width:154px;height:20px;line-height:20px;text-align:center;">11</div>
<div class="t" style="left:618px;top:349.94px;font-size:14.6px;font-weight:bold;color:#000;width:147px;height:20px;line-height:20px;text-align:center;">6</div>
<div class="t" style="left:765px;top:349.94px;font-size:14.6px;font-weight:bold;color:#000;width:127px;height:20px;line-height:20px;text-align:center;">6</div>
<div class="t" style="left:892px;top:349.94px;font-size:14.6px;font-weight:bold;color:#000;width:102px;height:20px;line-height:20px;text-align:center;">23</div>
<div class="t" style="left:994px;top:349.94px;font-size:14.6px;font-weight:bold;color:#000;width:122px;height:20px;line-height:20px;text-align:center;">100%</div>
<div class="t" style="left:62px;top:372.94px;font-size:14.6px;font-weight:bold;color:#000;height:20px;line-height:20px;">% of Total</div>
<div class="t" style="left:464px;top:372.94px;font-size:14.6px;font-weight:bold;color:#000;width:154px;height:20px;line-height:20px;text-align:center;">48%</div>
<div class="t" style="left:618px;top:372.94px;font-size:14.6px;font-weight:bold;color:#000;width:147px;height:20px;line-height:20px;text-align:center;">26%</div>
<div class="t" style="left:765px;top:372.94px;font-size:14.6px;font-weight:bold;color:#000;width:127px;height:20px;line-height:20px;text-align:center;">26%</div>
<div class="t" style="left:892px;top:372.94px;font-size:14.6px;font-weight:bold;color:#000;width:102px;height:20px;line-height:20px;text-align:center;">100%</div>
<div style="left:58px;top:247px;width:1059px;height:1px;background:#000;"></div>
<div style="left:58px;top:274px;width:1059px;height:1px;background:#000;"></div>
<div style="left:58px;top:301px;width:1059px;height:1px;background:#000;"></div>
<div style="left:58px;top:323px;width:1059px;height:1px;background:#000;"></div>
<div style="left:58px;top:346px;width:1059px;height:1px;background:#000;"></div>
<div style="left:58px;top:348px;width:1059px;height:1px;background:#000;"></div>
<div style="left:58px;top:371px;width:1059px;height:1px;background:#000;"></div>
<div style="left:58px;top:393px;width:937px;height:1px;background:#000;"></div>
<div style="left:464px;top:221px;width:1px;height:173px;background:#000;"></div>
<div style="left:618px;top:221px;width:1px;height:173px;background:#000;"></div>
<div style="left:765px;top:221px;width:1px;height:173px;background:#000;"></div>
<div style="left:892px;top:221px;width:1px;height:173px;background:#000;"></div>
<div style="left:994px;top:221px;width:1px;height:173px;background:#000;"></div>
<div style="left:58px;top:247px;width:1px;height:147px;background:#000;"></div>
<div style="left:1116px;top:221px;width:1px;height:151px;background:#000;"></div>
<div style="left:57px;top:246px;width:409px;height:30px;border:2px solid #217346;box-sizing:border-box;"></div>
<div style="left:462px;top:271px;width:6px;height:6px;background:#217346;border:1px solid #fff;box-sizing:content-box;"></div>
<div style="left:893px;top:413px;width:102px;height:532px;background:#f2f2f2;"></div>
<div style="left:58px;top:413px;width:835px;height:22px;background:#2f75b5;"></div>
<div class="t" style="left:62px;top:414.73px;font-size:15.2px;font-weight:bold;color:#e9f5fd;height:20px;line-height:20px;">ID</div>
<div style="left:89px;top:417px;width:17px;height:17px;background:#f3f7fb;border:1px solid #c9d3de;box-sizing:border-box;"></div>
<svg style="left:93px;top:424px" width="9" height="5"><path d="M0 0H9L4.5 5Z" fill="#666"/></svg>
<div class="t" style="left:110px;top:414.73px;font-size:15.2px;font-weight:bold;color:#e9f5fd;height:20px;line-height:20px;">Issue Description</div>
<div style="left:447px;top:417px;width:17px;height:17px;background:#f3f7fb;border:1px solid #c9d3de;box-sizing:border-box;"></div>
<svg style="left:451px;top:424px" width="9" height="5"><path d="M0 0H9L4.5 5Z" fill="#666"/></svg>
<div class="t" style="left:468px;top:414.73px;font-size:15.2px;font-weight:bold;color:#e9f5fd;height:20px;line-height:20px;">Department</div>
<div style="left:601px;top:417px;width:17px;height:17px;background:#f3f7fb;border:1px solid #c9d3de;box-sizing:border-box;"></div>
<svg style="left:605px;top:424px" width="9" height="5"><path d="M0 0H9L4.5 5Z" fill="#666"/></svg>
<div class="t" style="left:622px;top:414.73px;font-size:15.2px;font-weight:bold;color:#e9f5fd;height:20px;line-height:20px;">Actual Status</div>
<div style="left:748px;top:417px;width:17px;height:17px;background:#f3f7fb;border:1px solid #c9d3de;box-sizing:border-box;"></div>
<svg style="left:752px;top:424px" width="9" height="5"><path d="M0 0H9L4.5 5Z" fill="#666"/></svg>
<div class="t" style="left:769px;top:414.73px;font-size:15.2px;font-weight:bold;color:#e9f5fd;height:20px;line-height:20px;">Priority</div>
<div style="left:875px;top:417px;width:17px;height:17px;background:#f3f7fb;border:1px solid #c9d3de;box-sizing:border-box;"></div>
<svg style="left:879px;top:424px" width="9" height="5"><path d="M0 0H9L4.5 5Z" fill="#666"/></svg>
<div style="left:58px;top:435px;width:707px;height:22px;background:#ddebf7;"></div>
<div style="left:765px;top:435px;width:128px;height:22px;background:#c6efce;"></div>
<div class="t" style="left:58px;top:436.56px;font-size:15.7px;color:#222;width:45px;height:20px;line-height:20px;text-align:right;">1</div>
<div class="t" style="left:110px;top:436.56px;font-size:15.7px;color:#222;height:20px;line-height:20px;">Application Design</div>
<div class="t" style="left:468px;top:436.56px;font-size:15.7px;color:#222;height:20px;line-height:20px;">IT</div>
<div class="t" style="left:622px;top:436.56px;font-size:15.7px;color:#222;height:20px;line-height:20px;">Not Started</div>
<div class="t" style="left:769px;top:437.06px;font-size:16px;font-weight:bold;color:#006100;height:20px;line-height:20px;">Low</div>
<div style="left:58px;top:457px;width:707px;height:24px;background:#fff;"></div>
<div style="left:765px;top:457px;width:128px;height:24px;background:#ffc7ce;"></div>
<div class="t" style="left:58px;top:459.56px;font-size:15.7px;color:#222;width:45px;height:20px;line-height:20px;text-align:right;">2</div>
<div class="t" style="left:110px;top:459.56px;font-size:15.7px;color:#222;height:20px;line-height:20px;">Application Development</div>
<div class="t" style="left:468px;top:459.56px;font-size:15.7px;color:#222;height:20px;line-height:20px;">IT</div>
<div class="t" style="left:622px;top:459.56px;font-size:15.7px;color:#222;height:20px;line-height:20px;">Work In Progress</div>
<div class="t" style="left:769px;top:460.06px;font-size:16px;font-weight:bold;color:#9c0006;height:20px;line-height:20px;">High</div>
<div style="left:58px;top:481px;width:707px;height:22px;background:#ddebf7;"></div>
<div style="left:765px;top:481px;width:128px;height:22px;background:#c6efce;"></div>
<div class="t" style="left:58px;top:482.56px;font-size:15.7px;color:#222;width:45px;height:20px;line-height:20px;text-align:right;">3</div>
<div class="t" style="left:110px;top:482.56px;font-size:15.7px;color:#222;height:20px;line-height:20px;">Application Testing</div>
<div class="t" style="left:468px;top:482.56px;font-size:15.7px;color:#222;height:20px;line-height:20px;">IT</div>
<div class="t" style="left:622px;top:482.56px;font-size:15.7px;color:#222;height:20px;line-height:20px;">Closed</div>
<div class="t" style="left:769px;top:483.06px;font-size:16px;font-weight:bold;color:#006100;height:20px;line-height:20px;">Low</div>
<div style="left:58px;top:503px;width:707px;height:22px;background:#fff;"></div>
<div style="left:765px;top:503px;width:128px;height:22px;background:#ffc7ce;"></div>
<div class="t" style="left:58px;top:504.56px;font-size:15.7px;color:#222;width:45px;height:20px;line-height:20px;text-align:right;">4</div>
<div class="t" style="left:110px;top:504.56px;font-size:15.7px;color:#222;height:20px;line-height:20px;">Deploy</div>
<div class="t" style="left:468px;top:504.56px;font-size:15.7px;color:#222;height:20px;line-height:20px;">IT</div>
<div class="t" style="left:622px;top:504.56px;font-size:15.7px;color:#222;height:20px;line-height:20px;">Not Started</div>
<div class="t" style="left:769px;top:505.06px;font-size:16px;font-weight:bold;color:#9c0006;height:20px;line-height:20px;">High</div>
<div style="left:58px;top:525px;width:707px;height:22px;background:#ddebf7;"></div>
<div style="left:765px;top:525px;width:128px;height:22px;background:#ffeb9c;"></div>
<div class="t" style="left:58px;top:526.56px;font-size:15.7px;color:#222;width:45px;height:20px;line-height:20px;text-align:right;">5</div>
<div class="t" style="left:110px;top:526.56px;font-size:15.7px;color:#222;height:20px;line-height:20px;">Enviroment Design</div>
<div class="t" style="left:468px;top:526.56px;font-size:15.7px;color:#222;height:20px;line-height:20px;">Marketing</div>
<div class="t" style="left:622px;top:526.56px;font-size:15.7px;color:#222;height:20px;line-height:20px;">Work In Progress</div>
<div class="t" style="left:769px;top:527.06px;font-size:16px;font-weight:bold;color:#9c5700;height:20px;line-height:20px;">Medium</div>
<div style="left:58px;top:547px;width:707px;height:22px;background:#fff;"></div>
<div style="left:765px;top:547px;width:128px;height:22px;background:#c6efce;"></div>
<div class="t" style="left:58px;top:548.56px;font-size:15.7px;color:#222;width:45px;height:20px;line-height:20px;text-align:right;">6</div>
<div class="t" style="left:110px;top:548.56px;font-size:15.7px;color:#222;height:20px;line-height:20px;">Enviroment Implementation</div>
<div class="t" style="left:468px;top:548.56px;font-size:15.7px;color:#222;height:20px;line-height:20px;">Marketing</div>
<div class="t" style="left:622px;top:548.56px;font-size:15.7px;color:#222;height:20px;line-height:20px;">Closed</div>
<div class="t" style="left:769px;top:549.06px;font-size:16px;font-weight:bold;color:#006100;height:20px;line-height:20px;">Low</div>
<div style="left:58px;top:569px;width:707px;height:22px;background:#ddebf7;"></div>
<div style="left:765px;top:569px;width:128px;height:22px;background:#ffc7ce;"></div>
<div class="t" style="left:58px;top:570.56px;font-size:15.7px;color:#222;width:45px;height:20px;line-height:20px;text-align:right;">7</div>
<div class="t" style="left:110px;top:570.56px;font-size:15.7px;color:#222;height:20px;line-height:20px;">Enviroment Testing</div>
<div class="t" style="left:468px;top:570.56px;font-size:15.7px;color:#222;height:20px;line-height:20px;">Operations</div>
<div class="t" style="left:622px;top:570.56px;font-size:15.7px;color:#222;height:20px;line-height:20px;">Behind</div>
<div class="t" style="left:769px;top:571.06px;font-size:16px;font-weight:bold;color:#9c0006;height:20px;line-height:20px;">High</div>
<div style="left:58px;top:591px;width:707px;height:22px;background:#fff;"></div>
<div style="left:765px;top:591px;width:128px;height:22px;background:#ffeb9c;"></div>
<div class="t" style="left:58px;top:592.56px;font-size:15.7px;color:#222;width:45px;height:20px;line-height:20px;text-align:right;">8</div>
<div class="t" style="left:110px;top:592.56px;font-size:15.7px;color:#222;height:20px;line-height:20px;">Process Design</div>
<div class="t" style="left:468px;top:592.56px;font-size:15.7px;color:#222;height:20px;line-height:20px;">Operations</div>
<div class="t" style="left:622px;top:592.56px;font-size:15.7px;color:#222;height:20px;line-height:20px;">Work In Progress</div>
<div class="t" style="left:769px;top:593.06px;font-size:16px;font-weight:bold;color:#9c5700;height:20px;line-height:20px;">Medium</div>
<div style="left:58px;top:613px;width:707px;height:22px;background:#ddebf7;"></div>
<div style="left:765px;top:613px;width:128px;height:22px;background:#ffc7ce;"></div>
<div class="t" style="left:58px;top:614.56px;font-size:15.7px;color:#222;width:45px;height:20px;line-height:20px;text-align:right;">9</div>
<div class="t" style="left:110px;top:614.56px;font-size:15.7px;color:#222;height:20px;line-height:20px;">Operational Setup</div>
<div class="t" style="left:468px;top:614.56px;font-size:15.7px;color:#222;height:20px;line-height:20px;">Operations</div>
<div class="t" style="left:622px;top:614.56px;font-size:15.7px;color:#222;height:20px;line-height:20px;">Behind</div>
<div class="t" style="left:769px;top:615.06px;font-size:16px;font-weight:bold;color:#9c0006;height:20px;line-height:20px;">High</div>
<div style="left:58px;top:635px;width:707px;height:22px;background:#fff;"></div>
<div style="left:765px;top:635px;width:128px;height:22px;background:#ffeb9c;"></div>
<div class="t" style="left:58px;top:636.56px;font-size:15.7px;color:#222;width:45px;height:20px;line-height:20px;text-align:right;">10</div>
<div class="t" style="left:110px;top:636.56px;font-size:15.7px;color:#222;height:20px;line-height:20px;">Implementation</div>
<div class="t" style="left:468px;top:636.56px;font-size:15.7px;color:#222;height:20px;line-height:20px;">Operations</div>
<div class="t" style="left:622px;top:636.56px;font-size:15.7px;color:#222;height:20px;line-height:20px;">Work In Progress</div>
<div class="t" style="left:769px;top:637.06px;font-size:16px;font-weight:bold;color:#9c5700;height:20px;line-height:20px;">Medium</div>
<div style="left:58px;top:657px;width:707px;height:22px;background:#ddebf7;"></div>
<div style="left:765px;top:657px;width:128px;height:22px;background:#ffeb9c;"></div>
<div class="t" style="left:58px;top:658.56px;font-size:15.7px;color:#222;width:45px;height:20px;line-height:20px;text-align:right;">11</div>
<div class="t" style="left:110px;top:658.56px;font-size:15.7px;color:#222;height:20px;line-height:20px;">Product Launch</div>
<div class="t" style="left:468px;top:658.56px;font-size:15.7px;color:#222;height:20px;line-height:20px;">Marketing</div>
<div class="t" style="left:622px;top:658.56px;font-size:15.7px;color:#222;height:20px;line-height:20px;">Behind</div>
<div class="t" style="left:769px;top:659.06px;font-size:16px;font-weight:bold;color:#9c5700;height:20px;line-height:20px;">Medium</div>
<div style="left:58px;top:679px;width:707px;height:22px;background:#fff;"></div>
<div style="left:765px;top:679px;width:128px;height:22px;background:#ffc7ce;"></div>
<div class="t" style="left:58px;top:680.56px;font-size:15.7px;color:#222;width:45px;height:20px;line-height:20px;text-align:right;">12</div>
<div class="t" style="left:110px;top:680.56px;font-size:15.7px;color:#222;height:20px;line-height:20px;">R&amp;D</div>
<div class="t" style="left:468px;top:680.56px;font-size:15.7px;color:#222;height:20px;line-height:20px;">Marketing</div>
<div class="t" style="left:622px;top:680.56px;font-size:15.7px;color:#222;height:20px;line-height:20px;">Work In Progress</div>
<div class="t" style="left:769px;top:681.06px;font-size:16px;font-weight:bold;color:#9c0006;height:20px;line-height:20px;">High</div>
<div style="left:58px;top:701px;width:707px;height:22px;background:#ddebf7;"></div>
<div style="left:765px;top:701px;width:128px;height:22px;background:#ffc7ce;"></div>
<div class="t" style="left:58px;top:702.56px;font-size:15.7px;color:#222;width:45px;height:20px;line-height:20px;text-align:right;">13</div>
<div class="t" style="left:110px;top:702.56px;font-size:15.7px;color:#222;height:20px;line-height:20px;">Product Design</div>
<div class="t" style="left:468px;top:702.56px;font-size:15.7px;color:#222;height:20px;line-height:20px;">Marketing</div>
<div class="t" style="left:622px;top:702.56px;font-size:15.7px;color:#222;height:20px;line-height:20px;">Behind</div>
<div class="t" style="left:769px;top:703.06px;font-size:16px;font-weight:bold;color:#9c0006;height:20px;line-height:20px;">High</div>
<div style="left:58px;top:723px;width:707px;height:22px;background:#fff;"></div>
<div style="left:765px;top:723px;width:128px;height:22px;background:#ffc7ce;"></div>
<div class="t" style="left:58px;top:724.56px;font-size:15.7px;color:#222;width:45px;height:20px;line-height:20px;text-align:right;">14</div>
<div class="t" style="left:110px;top:724.56px;font-size:15.7px;color:#222;height:20px;line-height:20px;">Marketing Collateral</div>
<div class="t" style="left:468px;top:724.56px;font-size:15.7px;color:#222;height:20px;line-height:20px;">Marketing</div>
<div class="t" style="left:622px;top:724.56px;font-size:15.7px;color:#222;height:20px;line-height:20px;">Closed</div>
<div class="t" style="left:769px;top:725.06px;font-size:16px;font-weight:bold;color:#9c0006;height:20px;line-height:20px;">High</div>
<div style="left:58px;top:745px;width:707px;height:22px;background:#ddebf7;"></div>
<div style="left:765px;top:745px;width:128px;height:22px;background:#ffc7ce;"></div>
<div class="t" style="left:58px;top:746.56px;font-size:15.7px;color:#222;width:45px;height:20px;line-height:20px;text-align:right;">15</div>
<div class="t" style="left:110px;top:746.56px;font-size:15.7px;color:#222;height:20px;line-height:20px;">Press Release</div>
<div class="t" style="left:468px;top:746.56px;font-size:15.7px;color:#222;height:20px;line-height:20px;">Marketing</div>
<div class="t" style="left:622px;top:746.56px;font-size:15.7px;color:#222;height:20px;line-height:20px;">Behind</div>
<div class="t" style="left:769px;top:747.06px;font-size:16px;font-weight:bold;color:#9c0006;height:20px;line-height:20px;">High</div>
<div style="left:58px;top:767px;width:707px;height:22px;background:#fff;"></div>
<div style="left:765px;top:767px;width:128px;height:22px;background:#ffc7ce;"></div>
<div class="t" style="left:58px;top:768.56px;font-size:15.7px;color:#222;width:45px;height:20px;line-height:20px;text-align:right;">16</div>
<div class="t" style="left:110px;top:768.56px;font-size:15.7px;color:#222;height:20px;line-height:20px;">Operation Issue 1</div>
<div class="t" style="left:468px;top:768.56px;font-size:15.7px;color:#222;height:20px;line-height:20px;">Operations</div>
<div class="t" style="left:622px;top:768.56px;font-size:15.7px;color:#222;height:20px;line-height:20px;">Not Started</div>
<div class="t" style="left:769px;top:769.06px;font-size:16px;font-weight:bold;color:#9c0006;height:20px;line-height:20px;">High</div>
<div style="left:58px;top:789px;width:707px;height:22px;background:#ddebf7;"></div>
<div style="left:765px;top:789px;width:128px;height:22px;background:#c6efce;"></div>
<div class="t" style="left:58px;top:790.56px;font-size:15.7px;color:#222;width:45px;height:20px;line-height:20px;text-align:right;">17</div>
<div class="t" style="left:110px;top:790.56px;font-size:15.7px;color:#222;height:20px;line-height:20px;">Operation Issue 2</div>
<div class="t" style="left:468px;top:790.56px;font-size:15.7px;color:#222;height:20px;line-height:20px;">Operations</div>
<div class="t" style="left:622px;top:790.56px;font-size:15.7px;color:#222;height:20px;line-height:20px;">Not Started</div>
<div class="t" style="left:769px;top:791.06px;font-size:16px;font-weight:bold;color:#006100;height:20px;line-height:20px;">Low</div>
<div style="left:58px;top:811px;width:707px;height:22px;background:#fff;"></div>
<div style="left:765px;top:811px;width:128px;height:22px;background:#ffeb9c;"></div>
<div class="t" style="left:58px;top:812.56px;font-size:15.7px;color:#222;width:45px;height:20px;line-height:20px;text-align:right;">18</div>
<div class="t" style="left:110px;top:812.56px;font-size:15.7px;color:#222;height:20px;line-height:20px;">IT Issue 1</div>
<div class="t" style="left:468px;top:812.56px;font-size:15.7px;color:#222;height:20px;line-height:20px;">IT</div>
<div class="t" style="left:622px;top:812.56px;font-size:15.7px;color:#222;height:20px;line-height:20px;">Work In Progress</div>
<div class="t" style="left:769px;top:813.06px;font-size:16px;font-weight:bold;color:#9c5700;height:20px;line-height:20px;">Medium</div>
<div style="left:58px;top:833px;width:707px;height:22px;background:#ddebf7;"></div>
<div style="left:765px;top:833px;width:128px;height:22px;background:#ffc7ce;"></div>
<div class="t" style="left:58px;top:834.56px;font-size:15.7px;color:#222;width:45px;height:20px;line-height:20px;text-align:right;">19</div>
<div class="t" style="left:110px;top:834.56px;font-size:15.7px;color:#222;height:20px;line-height:20px;">IT Issue 2</div>
<div class="t" style="left:468px;top:834.56px;font-size:15.7px;color:#222;height:20px;line-height:20px;">IT</div>
<div class="t" style="left:622px;top:834.56px;font-size:15.7px;color:#222;height:20px;line-height:20px;">Not Started</div>
<div class="t" style="left:769px;top:835.06px;font-size:16px;font-weight:bold;color:#9c0006;height:20px;line-height:20px;">High</div>
<div style="left:58px;top:855px;width:707px;height:22px;background:#fff;"></div>
<div style="left:765px;top:855px;width:128px;height:22px;background:#ffeb9c;"></div>
<div class="t" style="left:58px;top:856.56px;font-size:15.7px;color:#222;width:45px;height:20px;line-height:20px;text-align:right;">20</div>
<div class="t" style="left:110px;top:856.56px;font-size:15.7px;color:#222;height:20px;line-height:20px;">IT Issue 3</div>
<div class="t" style="left:468px;top:856.56px;font-size:15.7px;color:#222;height:20px;line-height:20px;">IT</div>
<div class="t" style="left:622px;top:856.56px;font-size:15.7px;color:#222;height:20px;line-height:20px;">Not Started</div>
<div class="t" style="left:769px;top:857.06px;font-size:16px;font-weight:bold;color:#9c5700;height:20px;line-height:20px;">Medium</div>
<div style="left:58px;top:877px;width:707px;height:22px;background:#ddebf7;"></div>
<div style="left:765px;top:877px;width:128px;height:22px;background:#c6efce;"></div>
<div class="t" style="left:58px;top:878.56px;font-size:15.7px;color:#222;width:45px;height:20px;line-height:20px;text-align:right;">21</div>
<div class="t" style="left:110px;top:878.56px;font-size:15.7px;color:#222;height:20px;line-height:20px;">Marketing Issue 1</div>
<div class="t" style="left:468px;top:878.56px;font-size:15.7px;color:#222;height:20px;line-height:20px;">Marketing</div>
<div class="t" style="left:622px;top:878.56px;font-size:15.7px;color:#222;height:20px;line-height:20px;">Work In Progress</div>
<div class="t" style="left:769px;top:879.06px;font-size:16px;font-weight:bold;color:#006100;height:20px;line-height:20px;">Low</div>
<div style="left:58px;top:899px;width:707px;height:24px;background:#fff;"></div>
<div style="left:765px;top:899px;width:128px;height:24px;background:#ffc7ce;"></div>
<div class="t" style="left:58px;top:901.56px;font-size:15.7px;color:#222;width:45px;height:20px;line-height:20px;text-align:right;">22</div>
<div class="t" style="left:110px;top:901.56px;font-size:15.7px;color:#222;height:20px;line-height:20px;">Marketing Issue 2</div>
<div class="t" style="left:468px;top:901.56px;font-size:15.7px;color:#222;height:20px;line-height:20px;">Marketing</div>
<div class="t" style="left:622px;top:901.56px;font-size:15.7px;color:#222;height:20px;line-height:20px;">Not Started</div>
<div class="t" style="left:769px;top:902.06px;font-size:16px;font-weight:bold;color:#9c0006;height:20px;line-height:20px;">High</div>
<div style="left:58px;top:923px;width:707px;height:22px;background:#ddebf7;"></div>
<div style="left:765px;top:923px;width:128px;height:22px;background:#c6efce;"></div>
<div class="t" style="left:58px;top:924.56px;font-size:15.7px;color:#222;width:45px;height:20px;line-height:20px;text-align:right;">23</div>
<div class="t" style="left:110px;top:924.56px;font-size:15.7px;color:#222;height:20px;line-height:20px;">Marketing Issue 3</div>
<div class="t" style="left:468px;top:924.56px;font-size:15.7px;color:#222;height:20px;line-height:20px;">Marketing</div>
<div class="t" style="left:622px;top:924.56px;font-size:15.7px;color:#222;height:20px;line-height:20px;">Not Started</div>
<div class="t" style="left:769px;top:925.06px;font-size:16px;font-weight:bold;color:#006100;height:20px;line-height:20px;">Low</div>
<div style="left:58px;top:435px;width:834px;height:1px;background:#aab1ba;"></div>
<div style="left:58px;top:457px;width:834px;height:1px;background:#aab1ba;"></div>
<div style="left:58px;top:481px;width:834px;height:1px;background:#aab1ba;"></div>
<div style="left:58px;top:503px;width:834px;height:1px;background:#aab1ba;"></div>
<div style="left:58px;top:525px;width:834px;height:1px;background:#aab1ba;"></div>
<div style="left:58px;top:547px;width:834px;height:1px;background:#aab1ba;"></div>
<div style="left:58px;top:569px;width:834px;height:1px;background:#aab1ba;"></div>
<div style="left:58px;top:591px;width:834px;height:1px;background:#aab1ba;"></div>
<div style="left:58px;top:613px;width:834px;height:1px;background:#aab1ba;"></div>
<div style="left:58px;top:635px;width:834px;height:1px;background:#aab1ba;"></div>
<div style="left:58px;top:657px;width:834px;height:1px;background:#aab1ba;"></div>
<div style="left:58px;top:679px;width:834px;height:1px;background:#aab1ba;"></div>
<div style="left:58px;top:701px;width:834px;height:1px;background:#aab1ba;"></div>
<div style="left:58px;top:723px;width:834px;height:1px;background:#aab1ba;"></div>
<div style="left:58px;top:745px;width:834px;height:1px;background:#aab1ba;"></div>
<div style="left:58px;top:767px;width:834px;height:1px;background:#aab1ba;"></div>
<div style="left:58px;top:789px;width:834px;height:1px;background:#aab1ba;"></div>
<div style="left:58px;top:811px;width:834px;height:1px;background:#aab1ba;"></div>
<div style="left:58px;top:833px;width:834px;height:1px;background:#aab1ba;"></div>
<div style="left:58px;top:855px;width:834px;height:1px;background:#aab1ba;"></div>
<div style="left:58px;top:877px;width:834px;height:1px;background:#aab1ba;"></div>
<div style="left:58px;top:899px;width:834px;height:1px;background:#aab1ba;"></div>
<div style="left:58px;top:923px;width:834px;height:1px;background:#aab1ba;"></div>
<div style="left:58px;top:945px;width:834px;height:1px;background:#aab1ba;"></div>
<div style="left:106px;top:435px;width:1px;height:510px;background:#aab1ba;"></div>
<div style="left:464px;top:435px;width:1px;height:510px;background:#aab1ba;"></div>
<div style="left:618px;top:435px;width:1px;height:510px;background:#aab1ba;"></div>
<div style="left:765px;top:435px;width:1px;height:510px;background:#aab1ba;"></div>
<div style="left:58px;top:435px;width:1px;height:510px;background:#aab1ba;"></div>
<div style="left:892px;top:435px;width:1px;height:511px;background:#aab1ba;"></div>
<svg style="left:886px;top:939px" width="6" height="6"><path d="M3 0H6V6H0V3H3Z" fill="#44546a"/></svg>
<div class="t" style="left:1116px;top:414.11px;font-size:17px;font-weight:bold;color:#404040;width:123px;height:20px;line-height:20px;text-align:center;">0,1</div>
<div class="t" style="left:1116px;top:436.11px;font-size:17px;font-weight:bold;color:#404040;width:123px;height:20px;line-height:20px;text-align:center;">Low</div>
<div class="t" style="left:1239px;top:414.11px;font-size:17px;font-weight:bold;color:#404040;width:116px;height:20px;line-height:20px;text-align:center;">0,3</div>
<div class="t" style="left:1239px;top:436.11px;font-size:17px;font-weight:bold;color:#404040;width:116px;height:20px;line-height:20px;text-align:center;">Medium</div>
<div class="t" style="left:1355px;top:414.11px;font-size:17px;font-weight:bold;color:#404040;width:133px;height:20px;line-height:20px;text-align:center;">0,6</div>
<div class="t" style="left:1355px;top:436.11px;font-size:17px;font-weight:bold;color:#404040;width:133px;height:20px;line-height:20px;text-align:center;">High</div>
<div style="left:1117px;top:482px;width:123px;height:110px;background:#63be7b;"></div>
<div class="t" style="left:1117px;top:526.94px;font-size:17.5px;font-weight:bold;font-style:italic;color:#111;width:123px;height:20px;line-height:20px;text-align:center;">0,00%</div>
<div style="left:1240px;top:482px;width:116px;height:110px;background:#ffe984;"></div>
<div class="t" style="left:1240px;top:526.94px;font-size:17.5px;font-weight:bold;font-style:italic;color:#111;width:116px;height:20px;line-height:20px;text-align:center;">5,00%</div>
<div style="left:1356px;top:482px;width:132px;height:110px;background:#f8696b;"></div>
<div class="t" style="left:1356px;top:526.94px;font-size:17.5px;font-weight:bold;font-style:italic;color:#111;width:132px;height:20px;line-height:20px;text-align:center;">21,82%</div>
<div style="left:1117px;top:592px;width:123px;height:110px;background:#98ce7f;"></div>
<div class="t" style="left:1117px;top:636.94px;font-size:17.5px;font-weight:bold;font-style:italic;color:#111;width:123px;height:20px;line-height:20px;text-align:center;">1,67%</div>
<div style="left:1240px;top:592px;width:116px;height:110px;background:#f8776e;"></div>
<div class="t" style="left:1240px;top:636.94px;font-size:17.5px;font-weight:bold;font-style:italic;color:#111;width:116px;height:20px;line-height:20px;text-align:center;">20,00%</div>
<div style="left:1356px;top:592px;width:132px;height:110px;background:#fcbd7b;"></div>
<div class="t" style="left:1356px;top:636.94px;font-size:17.5px;font-weight:bold;font-style:italic;color:#111;width:132px;height:20px;line-height:20px;text-align:center;">10,91%</div>
<div style="left:1117px;top:702px;width:123px;height:110px;background:#cbdc81;"></div>
<div class="t" style="left:1117px;top:746.94px;font-size:17.5px;font-weight:bold;font-style:italic;color:#111;width:123px;height:20px;line-height:20px;text-align:center;">3,33%</div>
<div style="left:1240px;top:702px;width:116px;height:110px;background:#63be7b;"></div>
<div class="t" style="left:1240px;top:746.94px;font-size:17.5px;font-weight:bold;font-style:italic;color:#111;width:116px;height:20px;line-height:20px;text-align:center;">0,00%</div>
<div style="left:1356px;top:702px;width:132px;height:110px;background:#ffe583;"></div>
<div class="t" style="left:1356px;top:746.94px;font-size:17.5px;font-weight:bold;font-style:italic;color:#111;width:132px;height:20px;line-height:20px;text-align:center;">5,45%</div>
<div style="left:1117px;top:812px;width:123px;height:110px;background:#ffe984;"></div>
<div class="t" style="left:1117px;top:856.94px;font-size:17.5px;font-weight:bold;font-style:italic;color:#111;width:123px;height:20px;line-height:20px;text-align:center;">5,00%</div>
<div style="left:1240px;top:812px;width:116px;height:110px;background:#ffe984;"></div>
<div class="t" style="left:1240px;top:856.94px;font-size:17.5px;font-weight:bold;font-style:italic;color:#111;width:116px;height:20px;line-height:20px;text-align:center;">5,00%</div>
<div style="left:1356px;top:812px;width:132px;height:110px;background:#f8696b;"></div>
<div class="t" style="left:1356px;top:856.94px;font-size:17.5px;font-weight:bold;font-style:italic;color:#111;width:132px;height:20px;line-height:20px;text-align:center;">21,82%</div>
<div style="left:1116px;top:591px;width:373px;height:1px;background:#000;"></div>
<div style="left:1116px;top:701px;width:373px;height:1px;background:#000;"></div>
<div style="left:1116px;top:811px;width:373px;height:1px;background:#000;"></div>
<div style="left:1238px;top:481px;width:2px;height:441px;background:#000;"></div>
<div style="left:1354px;top:481px;width:2px;height:441px;background:#000;"></div>
<div style="left:1115px;top:480px;width:374px;height:444px;border:2px solid #000;box-sizing:border-box;"></div>
<div style="left:1567px;top:220px;width:1px;height:727px;background:#ababab;"></div>
<div style="left:1568px;top:193px;width:21px;height:754px;background:#fff;"></div>
<div style="left:1571px;top:195px;width:15px;height:15px;border:1px solid #ababab;box-sizing:border-box;background:#fff;"></div>
<svg style="left:1574px;top:200px" width="9" height="5"><path d="M0 5H9L4.5 0Z" fill="#666"/></svg>
<div style="left:1571px;top:210px;width:15px;height:22px;background:#f0f0f0;"></div>
<div style="left:1571px;top:232px;width:15px;height:700px;border:1px solid #ababab;box-sizing:border-box;background:#fff;"></div>
<div style="left:1571px;top:933px;width:15px;height:15px;border:1px solid #ababab;box-sizing:border-box;background:#fff;"></div>
<svg style="left:1574px;top:939px" width="9" height="5"><path d="M0 0H9L4.5 5Z" fill="#666"/></svg>
<div style="left:1px;top:947px;width:1588px;height:28px;background:#f3f3f3;"></div>
<div style="left:1px;top:947px;width:1567px;height:1px;background:#a9a9a9;"></div>
<svg style="left:27px;top:955px" width="40" height="10"><path d="M6 0V10L1 5Z" fill="#c6c6c6"/><path d="M30 0V10L35 5Z" fill="#c6c6c6"/></svg>
<div style="left:101px;top:947px;width:140px;height:25px;background:#fff;border-left:1px solid #c6c6c6;border-right:1px solid #c6c6c6;box-sizing:border-box;"></div>
<div style="left:101px;top:970px;width:140px;height:2px;background:#217346;"></div>
<div class="t" style="left:101px;top:950px;font-size:13px;font-weight:bold;color:#2b6447;width:140px;height:21px;line-height:21px;text-align:center;">Excel risk template</div>
<svg style="left:273px;top:952px" width="18" height="18"><circle cx="9" cy="9" r="7.5" fill="none" stroke="#666" stroke-width="1.2"/><path d="M9 5V13M5 9H13" stroke="#666" stroke-width="1.6"/></svg>
<svg style="left:954px;top:955px" width="3" height="12"><rect x="0" y="0" width="2" height="2" fill="#999"/><rect x="0" y="4" width="2" height="2" fill="#999"/><rect x="0" y="8" width="2" height="2" fill="#999"/></svg>
<div style="left:971px;top:954px;width:16px;height:15px;border:1px solid #ababab;box-sizing:border-box;background:#fff;"></div>
<svg style="left:976px;top:957px" width="5" height="9"><path d="M5 0V9L0 4.5Z" fill="#666"/></svg>
<div style="left:986px;top:954px;width:486px;height:15px;border:1px solid #ababab;box-sizing:border-box;background:#fff;"></div>
<div style="left:1472px;top:954px;width:81px;height:15px;background:#e6e6e6;"></div>
<div style="left:1553px;top:954px;width:15px;height:15px;border:1px solid #ababab;box-sizing:border-box;background:#fff;"></div>
<svg style="left:1558px;top:957px" width="5" height="9"><path d="M0 0V9L5 4.5Z" fill="#666"/></svg>
<div style="left:0px;top:975px;width:1590px;height:23px;background:#217346;"></div>
<div class="t" style="left:8px;top:975px;font-size:10.2px;color:#fff;height:23px;line-height:23px;">READY</div>
<svg style="left:60px;top:977px" width="16" height="17" viewBox="0 0 16 17">
<circle cx="4" cy="4" r="3.5" fill="#dff0e6"/><rect x="1.5" y="6.5" width="13" height="9" fill="none" stroke="#dff0e6"/>
<path d="M1.5 9.5H14.5 M1.5 12.5H14.5 M5.5 6.5V15.5 M10.5 6.5V15.5" stroke="#dff0e6"/>
<rect x="8" y="1" width="7" height="5" fill="#dff0e6"/>
</svg>
<div style="left:1286px;top:975px;width:38px;height:23px;background:#1b5e38;"></div>
<svg style="left:1297px;top:978px" width="100" height="16" viewBox="0 0 100 16">
<path d="M1.5 1.5H14.5V14.5H1.5Z M1.5 5.5H14.5 M1.5 10H14.5 M5.8 1.5V14.5 M10.2 1.5V14.5" stroke="#e0f0e6" fill="none"/>
<path d="M39.5 1.5H52.5V14.5H39.5Z" stroke="#e0f0e6" fill="none"/><path d="M42.5 4.5H49.5V11.5H42.5Z M44 6.5H48 M44 8.5H48" stroke="#e0f0e6" fill="none"/>
<path d="M77.5 1.5H90.5V14.5H77.5Z" stroke="#e0f0e6" fill="none"/><path d="M80 2V9H83V2 M85 2V9H88V2" fill="#e0f0e6"/>
</svg>
<svg style="left:1403px;top:978px" width="130" height="16" viewBox="0 0 130 16">
<rect x="2" y="7" width="7" height="2" fill="#e0f0e6"/>
<rect x="12" y="7.5" width="100" height="1" fill="#e0f0e6"/>
<rect x="63" y="4" width="1" height="8" fill="#e0f0e6"/>
<rect x="67" y="2" width="5" height="12" fill="#e0f0e6"/>
<path d="M115 8H124 M119.5 3.5V12.5" stroke="#e0f0e6" stroke-width="2"/>
</svg>
<div class="t" style="left:1541px;top:975px;font-size:11px;color:#fff;height:23px;line-height:23px;">140%</div>
<div style="left:0px;top:0px;width:1590px;height:1px;background:#284a3a;"></div>
<div style="left:0px;top:0px;width:1px;height:975px;background:#284a3a;"></div>
<div style="left:1589px;top:0px;width:1px;height:975px;background:#284a3a;"></div>
</body></html>
